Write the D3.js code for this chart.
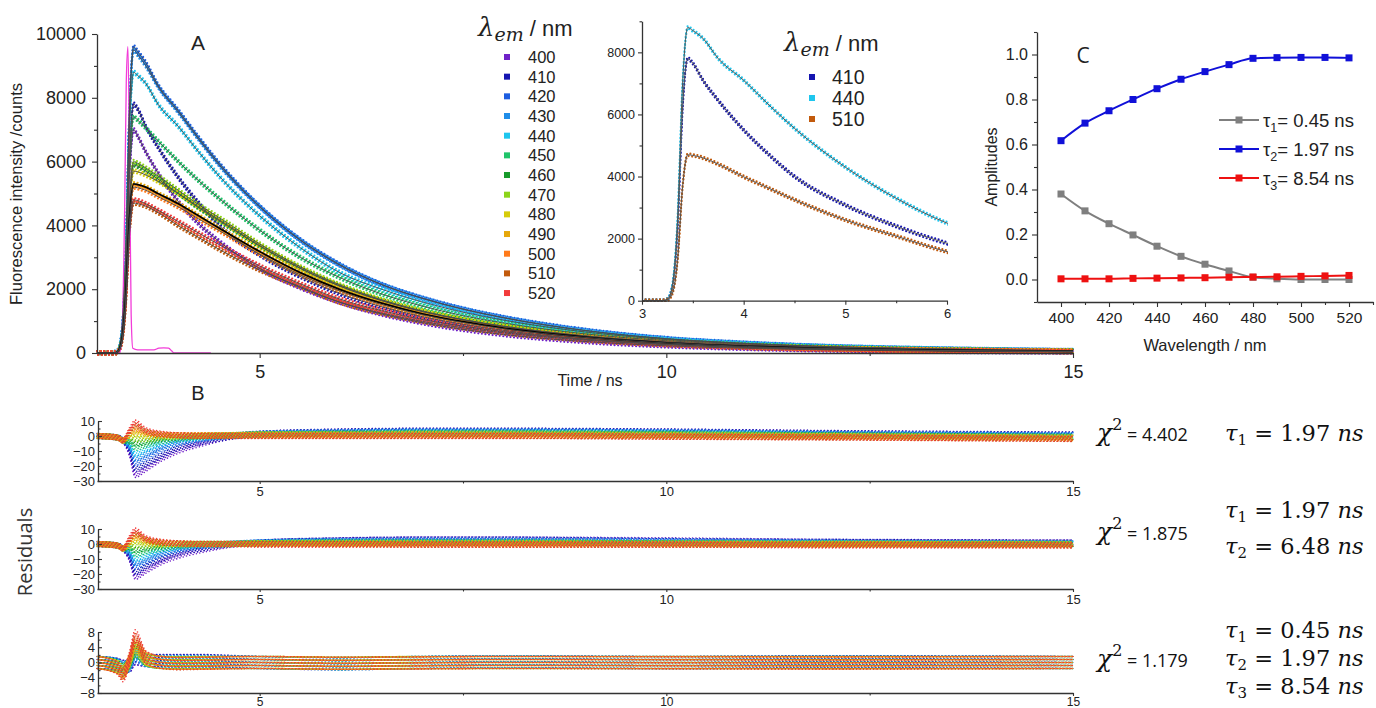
<!DOCTYPE html>
<html><head><meta charset="utf-8">
<script src="https://cdn.jsdelivr.net/npm/d3@7"></script>
<style>body{margin:0;background:#fff}svg{display:block}</style>
</head><body><svg id="c" width="1376" height="708"></svg>
<script>
// ---------------- DATA ----------------
const wavelengths = [400,410,420,430,440,450,460,470,480,490,500,510,520];
const seriesColors = ["#6f22c8","#1515b0","#1c5de0","#1f8de8","#1ec6ee","#20c46a","#169a2a","#8cd41a","#d6cc0a","#e6a70a","#ff7a1a","#c25a0c","#f23b3b"];

const decayTimes = [3.0,3.2,3.25,3.3,3.35,3.4,3.45,3.5,3.6,3.75,4.0,4.25,4.5,5.0,5.5,6.0,6.5,7.0,7.5,8.0,9.0,10.0,11.0,12.0,13.0,14.0,15.0];
const decay400 = [0,0,40,420,2100,5600,7000,6800,6300,5650,4750,4050,3500,2650,2050,1580,1220,950,740,580,360,225,145,95,65,45,35];
const decay410 = [0,0,45,470,2340,6240,7800,7650,7100,6450,5500,4700,4000,3080,2400,1850,1450,1140,900,710,440,280,180,120,85,60,45];
const decay420 = [0,0,55,580,2880,7680,9600,9450,9100,8400,7600,6750,5950,4600,3550,2750,2150,1720,1380,1110,710,450,300,200,140,100,70];
const decay430 = [0,0,55,570,2850,7600,9500,9350,9000,8350,7550,6700,5900,4580,3530,2730,2140,1710,1370,1100,700,445,295,200,140,100,70];
const decay440 = [0,0,50,530,2640,7040,8800,8700,8450,7800,7100,6300,5550,4300,3300,2500,2000,1600,1280,1030,660,420,280,190,135,95,70];
const decay450 = [0,0,45,440,2220,5920,7400,7300,7050,6650,6000,5400,4850,3850,3000,2350,1850,1470,1170,940,600,385,255,170,120,85,60];
const decay460 = [0,0,35,350,1770,4720,5900,5850,5700,5450,5000,4550,4150,3350,2650,2080,1640,1300,1040,830,530,340,225,150,105,75,55];
const decay470 = [0,0,35,360,1800,4800,6000,5950,5800,5550,5100,4650,4250,3420,2700,2120,1670,1320,1050,840,540,345,230,155,105,75,55];
const decay480 = [0,0,35,340,1710,4560,5700,5680,5580,5380,5000,4580,4180,3370,2660,2090,1650,1300,1040,830,530,340,225,150,105,75,55];
const decay490 = [0,0,30,320,1590,4240,5300,5280,5200,5000,4680,4300,3920,3180,2520,1980,1560,1230,980,780,500,320,210,140,100,70,50];
const decay500 = [0,0,30,310,1560,4160,5200,5180,5100,4900,4580,4200,3840,3100,2450,1930,1520,1200,955,760,490,315,205,140,95,70,50];
const decay510 = [0,0,25,250,1300,3700,4700,4680,4600,4400,3990,3620,3250,2600,2080,1580,1250,990,790,630,405,260,170,115,80,58,42];
const decay520 = [0,0,30,290,1440,3840,4800,4780,4680,4480,4120,3760,3400,2730,2170,1680,1330,1050,840,670,430,275,180,120,85,60,45];

const irfTimes  = [3.0,3.28,3.31,3.34,3.36,3.38,3.40,3.42,3.44,3.5,3.7,3.76,3.82,3.88,3.92,3.95,4.4];
const irfValues = [0,0,800,4500,8500,9600,6000,1200,150,100,100,150,160,150,60,0,0];

const insetWavelengths = [410,440,510];

const ampWavelengths = [400,410,420,430,440,450,460,470,480,490,500,510,520];
const ampTau1 = [0.38,0.305,0.248,0.198,0.148,0.103,0.068,0.038,0.01,0.003,0.0,0.0,0.0];
const ampTau2 = [0.617,0.695,0.75,0.80,0.848,0.89,0.924,0.955,0.983,0.986,0.987,0.987,0.985];
const ampTau3 = [0.003,0.003,0.003,0.005,0.006,0.007,0.008,0.01,0.011,0.012,0.014,0.016,0.018];
const ampLabels = ["0.45","1.97","8.54"];

const residTimes = [3.0,3.25,3.32,3.4,3.47,3.6,3.8,4.0,4.3,4.6,5.0,6.0,7.0,8.0,10.0,12.0,15.0];
const resid1 = [
 [0,-1,-3,-12,-26,-22,-15,-10,-5,-1,1.5,3,3.5,3.5,3,2,1],
 [0,-1,-3,-10,-22,-19,-13,-8,-4,-1,1.5,3,3.5,3.5,3,2,1],
 [0,-1,-3,-8,-18,-15,-9,-5,-2,0,1.5,2.5,3,3,2.5,1.5,0.5],
 [0,-1,-3,-7,-15,-12,-7,-4,-1.5,0,1.5,2.5,3,3,2.5,1.5,0.5],
 [0,-1,-3,-6,-12,-9,-5,-2.5,-1,0,1,2,2.5,2.5,2,1,0],
 [0,-1,-3,-4,-8,-6,-3.5,-2,-0.5,0,1,1.5,2,2,1.5,0.5,-0.5],
 [0,-1,-3,-3,-5,-4,-2,-1,0,0.5,1,1.5,1.5,1.5,1,0.5,-0.5],
 [0,-1,-3,-1,-2,-2,-1,-0.5,0,0.5,1,1,1.5,1.5,1,0,-1],
 [0,-1,-3,0,1,0,0,0,0.5,0.5,1,1,1,1,0.5,0,-1],
 [0,-1,-3,1,3,1.5,0.5,0.5,0.5,0.5,0.5,0.5,1,0.5,0,-0.5,-1.5],
 [0,-1,-3,2,5,2.5,1,0.5,0.5,0.5,0.5,0.5,0.5,0.5,0,-0.5,-1.5],
 [0,-1,-3,3,7,3,1,0.5,0,0,0,0,0,0,-0.5,-1,-2],
 [0,-1,-3,4,9,4,1.5,0.5,0,0,0,0,0,0,-0.5,-1,-2]
];
const resid2 = [
 [0,-1,-3,-10,-22,-18,-12,-8,-4,-1,1,2.5,3,3,2.5,1.5,1],
 [0,-1,-3,-9,-19,-15,-10,-6,-3,-0.5,1,2.5,3,3,2,1.5,1],
 [0,-1,-3,-7,-15,-12,-7,-4,-1.5,0,1,2,2.5,2.5,2,1,0.5],
 [0,-1,-3,-6,-13,-10,-6,-3,-1,0,1,2,2,2,1.5,1,0.5],
 [0,-1,-3,-5,-10,-8,-4,-2,-0.5,0,1,1.5,1.5,1.5,1,0.5,0],
 [0,-1,-3,-3,-7,-5,-3,-1.5,0,0,0.5,1,1,1,0.5,0.5,0],
 [0,-1,-3,-2,-4,-3,-1.5,-0.5,0,0,0.5,1,1,1,0.5,0,0],
 [0,-1,-3,-1,-1,-1,-0.5,0,0,0,0.5,0.5,0.5,0.5,0.5,0,0],
 [0,-1,-3,0,2,0.5,0,0,0,0,0.5,0.5,0.5,0.5,0,0,-0.5],
 [0,-1,-3,1,4,2,0.5,0,0,0,0,0,0,0,0,0,-0.5],
 [0,-1,-3,2,6,3,1,0.5,0,0,0,0,0,0,0,-0.5,-0.5],
 [0,-1,-3,3,7,3,1,0.5,0,0,0,0,-0.5,-0.5,-0.5,-0.5,-1],
 [0,-1,-3,4,9,4,1.5,0.5,0,0,-0.5,-0.5,-0.5,-0.5,-0.5,-1,-1]
];
const resid3 = [
 [0,-0.5,-1,-1,1,0.5,0.5,0.5,0.5,0.3,0,-0.3,0,0.2,0,0.2,0],
 [0,-0.5,-1,-1,1,0.5,0.5,0.5,0.5,0.3,0,-0.3,0,0.2,0,0.2,0],
 [0,-0.5,-1.2,-0.8,1.5,0.5,0.3,0.3,0.3,0.2,0,-0.3,0,0.2,0,0.1,0],
 [0,-0.6,-1.4,-0.6,2,0.6,0.2,0.2,0.2,0.1,0,-0.3,0,0.1,0,0.1,0],
 [0,-0.7,-1.6,-0.4,2.5,0.6,0.1,0.1,0.1,0,0,-0.3,0,0.1,0,0,0],
 [0,-0.8,-1.8,-0.2,3,0.7,0,0,0,0,0,-0.3,0,0,0,0,0],
 [0,-0.9,-2,0,3,0.7,0,0,0,0,0,-0.2,0,0,0,0,0],
 [0,-1,-2.2,0.2,3.5,0.8,0,-0.1,0,0,0,-0.2,0,0,0,0,0],
 [0,-1.1,-2.4,0.4,4,0.9,0,-0.1,-0.1,0,0,-0.2,0,0,0,0,0],
 [0,-1.2,-2.6,0.6,4.5,1,0,-0.2,-0.1,0,0,-0.2,-0.1,0,0,-0.1,0],
 [0,-1.3,-2.8,0.8,5,1.2,0,-0.2,-0.2,-0.1,0,-0.2,-0.1,0,0,-0.1,0],
 [0,-1.4,-3,1,6,1.3,0,-0.3,-0.2,-0.1,0,-0.2,-0.1,0,-0.1,-0.1,0],
 [0,-1.5,-3.5,1.2,7,1.5,0,-0.3,-0.2,-0.1,0,-0.2,-0.1,0,-0.1,-0.2,0]
];
const chiSquared = ["4.402","1.875","1.179"];
const fitTaus = [["1.97"],["1.97","6.48"],["0.45","1.97","8.54"]];

const mainXTicks = [5,10,15];
const mainYTicks = [0,2000,4000,6000,8000,10000];
const insetXTicks = [3,4,5,6];
const insetYTicks = [0,2000,4000,6000,8000];
const ampXTicks = [400,420,440,460,480,500,520];
const ampYTicks = [0,0.2,0.4,0.6,0.8,1.0];

// ---------------- DRAW ----------------
const SANS = '"Liberation Sans", Arial, sans-serif';
const SERIF = '"DejaVu Serif", serif';
const svg = d3.select('#c');
const decays = [decay400,decay410,decay420,decay430,decay440,decay450,decay460,decay470,decay480,decay490,decay500,decay510,decay520];

function axis(gen, scale, vals, size, fmt, fs, pad, tx, ty, showDomain){
  const a = gen(scale).tickValues(vals).tickSize(size).tickSizeOuter(0).tickPadding(pad).tickFormat(fmt);
  const g = svg.append('g').attr('transform',`translate(${tx},${ty})`).call(a);
  g.attr('font-size',null).attr('font-family',null);
  g.selectAll('text').attr('font-size',fs).attr('font-family',SANS).attr('fill','#222');
  g.selectAll('.tick line').attr('stroke','#333').attr('stroke-width',1.1);
  g.select('.domain').attr('stroke','#333').attr('stroke-width',1.3).attr('display',showDomain?null:'none');
  return g;
}
const noLabel = () => '';

// ---- Panel A main ----
const xMain = d3.scaleLinear().domain([3,15]).range([97,1073]);
const yMain = d3.scaleLinear().domain([0,10000]).range([353,34]);

const gA = svg.append('g');
const lineMain = d3.line().x(d=>xMain(d[0])).y(d=>yMain(d[1])).curve(d3.curveMonotoneX);
const pts = arr => decayTimes.map((t,i)=>[t,arr[i]]);

decays.forEach((arr,i)=>{
  [-1.8,0,1.8].forEach((off,k)=>{
    gA.append('path').attr('d',lineMain(pts(arr))).attr('fill','none')
      .attr('stroke',seriesColors[i]).attr('stroke-width',2.2).attr('stroke-linecap','round')
      .attr('stroke-dasharray','0 3.6').attr('stroke-dashoffset',k*1.2)
      .attr('transform',`translate(0,${off})`);
  });
});
gA.append('path').attr('d',lineMain(irfTimes.map((t,i)=>[t,irfValues[i]])))
  .attr('fill','none').attr('stroke','#f23cd8').attr('stroke-width',1.3);
decays.forEach((arr,i)=>{
  gA.append('path').attr('d',lineMain(pts(arr))).attr('fill','none')
    .attr('stroke', i===9 ? '#000' : '#4a4a4a').attr('stroke-width', i===9 ? 1.8 : 0.9);
});

axis(d3.axisBottom,xMain,mainXTicks,5,d3.format('d'),18,7,0,353,true);
axis(d3.axisBottom,xMain,[7.5,12.5],3,noLabel,16,0,0,353,false);
axis(d3.axisLeft,yMain,mainYTicks,5,d3.format('d'),18,6,97,0,true);
axis(d3.axisLeft,yMain,[1000,3000,5000,7000,9000],3,noLabel,16,0,97,0,false);

svg.append('text').attr('x',590).attr('y',386).attr('text-anchor','middle').attr('font-family',SANS)
  .attr('font-size',16).attr('fill','#222').text('Time / ns');
svg.append('text').attr('transform','translate(22,194) rotate(-90)').attr('text-anchor','middle')
  .attr('font-family',SANS).attr('font-size',16.5).attr('fill','#222').text('Fluorescence intensity /counts');
svg.append('text').attr('x',198).attr('y',50).attr('text-anchor','middle').attr('font-family',SANS)
  .attr('font-size',21).attr('fill','#222').text('A');
svg.append('text').attr('x',198).attr('y',400).attr('text-anchor','middle').attr('font-family',SANS)
  .attr('font-size',20).attr('fill','#222').text('B');

function lambdaTitle(x,y){
  const t = svg.append('text').attr('x',x).attr('y',y).attr('fill','#222');
  t.append('tspan').attr('font-family',SERIF).attr('font-style','italic').attr('font-size',26).text('λ');
  t.append('tspan').attr('font-family',SERIF).attr('font-style','italic').attr('font-size',19).attr('dy',5).text('em');
  t.append('tspan').attr('font-family',SANS).attr('font-size',22).attr('dy',-5).text(' / nm');
}
lambdaTitle(478,36);
const legA = svg.append('g');
wavelengths.forEach((w,i)=>{
  const y = 57 + i*19.67;
  legA.append('rect').attr('x',504).attr('y',y-3).attr('width',6).attr('height',6).attr('fill',seriesColors[i]);
  legA.append('text').attr('x',528).attr('y',y+6).attr('font-family',SANS).attr('font-size',16.5).attr('fill','#222').text(w);
});

// ---- Inset ----
const xIn = d3.scaleLinear().domain([3,6]).range([642,947]);
const yIn = d3.scaleLinear().domain([0,9000]).range([300.7,21.3]);
svg.append('clipPath').attr('id','clipIn').append('rect').attr('x',642).attr('y',15).attr('width',306).attr('height',287);
const gIn = svg.append('g').attr('clip-path','url(#clipIn)');
const lineIn = d3.line().x(d=>xIn(d[0])).y(d=>yIn(d[1])).curve(d3.curveMonotoneX);
insetWavelengths.forEach(w=>{
  const i = wavelengths.indexOf(w);
  [-1.3,1.3].forEach((off,k)=>{
    gIn.append('path').attr('d',lineIn(pts(decays[i]))).attr('fill','none')
      .attr('stroke',seriesColors[i]).attr('stroke-width',2.2).attr('stroke-linecap','round')
      .attr('stroke-dasharray','0 3.6').attr('stroke-dashoffset',k*1.8)
      .attr('transform',`translate(0,${off})`);
  });
});
insetWavelengths.forEach(w=>{
  const i = wavelengths.indexOf(w);
  gIn.append('path').attr('d',lineIn(pts(decays[i]))).attr('fill','none').attr('stroke','#555').attr('stroke-width',1);
});
axis(d3.axisBottom,xIn,insetXTicks,4,d3.format('d'),13,4,0,300.7,true);
axis(d3.axisBottom,xIn,[3.5,4.5,5.5],2.5,noLabel,12,0,0,300.7,false);
axis(d3.axisLeft,yIn,insetYTicks,4,d3.format('d'),12.5,3,642,0,true);
axis(d3.axisLeft,yIn,[1000,3000,5000,7000,9000],2.5,noLabel,12,0,642,0,false);
lambdaTitle(784,51);
insetWavelengths.forEach((w,k)=>{
  const i = wavelengths.indexOf(w);
  const y = 77 + k*21;
  svg.append('rect').attr('x',809).attr('y',y-3).attr('width',6).attr('height',6).attr('fill',seriesColors[i]);
  svg.append('text').attr('x',832).attr('y',y+7).attr('font-family',SANS).attr('font-size',19.5).attr('fill','#222').text(w);
});

// ---- Panel C ----
const xC = d3.scaleLinear().domain([390,530]).range([1037,1373]);
const yC = d3.scaleLinear().domain([-0.1,1.1]).range([302,32]);
const ampSeries = [[ampTau1,'#7f7f7f'],[ampTau2,'#1010d8'],[ampTau3,'#ee1111']];
const lineC = d3.line().x(d=>xC(d[0])).y(d=>yC(d[1])).curve(d3.curveMonotoneX);
ampSeries.forEach(([arr,col])=>{
  const d = ampWavelengths.map((w,i)=>[w,arr[i]]);
  svg.append('path').attr('d',lineC(d)).attr('fill','none').attr('stroke',col).attr('stroke-width',2);
  svg.append('g').selectAll('rect').data(d).join('rect')
    .attr('x',p=>xC(p[0])-3.5).attr('y',p=>yC(p[1])-3.5).attr('width',7).attr('height',7).attr('fill',col);
});
axis(d3.axisBottom,xC,ampXTicks,5,d3.format('d'),15.5,5,0,302,true);
axis(d3.axisBottom,xC,[410,430,450,470,490,510,530],3,noLabel,14,0,0,302,false);
axis(d3.axisLeft,yC,ampYTicks,5,d3.format('.1f'),16,4,1037,0,true);
axis(d3.axisLeft,yC,[-0.1,0.1,0.3,0.5,0.7,0.9,1.1],3,noLabel,14,0,1037,0,false);
svg.append('text').attr('x',1205).attr('y',351).attr('text-anchor','middle').attr('font-family',SANS)
  .attr('font-size',16.5).attr('fill','#222').text('Wavelength / nm');
svg.append('text').attr('transform','translate(997,167) rotate(-90)').attr('text-anchor','middle')
  .attr('font-family',SANS).attr('font-size',16).attr('fill','#222').text('Amplitudes');
svg.append('text').attr('x',1083).attr('y',63).attr('text-anchor','middle').attr('font-family','"Open Sans", sans-serif')
  .attr('font-size',21).attr('fill','#222').text('C');
ampSeries.forEach(([arr,col],k)=>{
  const y = 120 + k*29;
  svg.append('line').attr('x1',1219).attr('x2',1259).attr('y1',y).attr('y2',y).attr('stroke',col).attr('stroke-width',2);
  svg.append('rect').attr('x',1235.5).attr('y',y-3.5).attr('width',7).attr('height',7).attr('fill',col);
  const t = svg.append('text').attr('x',1263).attr('y',y+6.5).attr('font-family',SANS).attr('font-size',18.5).attr('fill','#222');
  t.append('tspan').text('τ');
  t.append('tspan').attr('font-size',12.5).attr('dy',5).text(k+1);
  t.append('tspan').attr('dy',-5).text('= ' + ampLabels[k] + ' ns');
});

// ---- Panel B residuals ----
const xR = xMain;
const residPanels = [
  {data:resid1, dom:[-30,10], rng:[481,421], ticks:[-30,-20,-10,0,10], minor:[-25,-15,-5,5], offs:[-2.4,-0.8,0.8,2.4], pad:3, fs:13},
  {data:resid2, dom:[-30,10], rng:[589,529], ticks:[-30,-20,-10,0,10], minor:[-25,-15,-5,5], offs:[-2.4,-0.8,0.8,2.4], pad:3, fs:13},
  {data:resid3, dom:[-8,8],  rng:[693,632], ticks:[-8,-4,0,4,8], minor:[-6,-2,2,6], offs:[-6,-3,0,3,6], pad:1, fs:12}
];
residPanels.forEach((p,pi)=>{
  const y = d3.scaleLinear().domain(p.dom).range(p.rng);
  const ln = d3.line().x(d=>xR(d[0])).y(d=>y(d[1])).curve(d3.curveMonotoneX);
  const g = svg.append('g');
  p.data.forEach((arr,i)=>{
    const d = residTimes.map((t,j)=>[t,arr[j]]);
    p.offs.forEach((off,k)=>{
      g.append('path').attr('d',ln(d)).attr('fill','none').attr('stroke',seriesColors[i])
        .attr('stroke-width',1.6).attr('stroke-linecap','round')
        .attr('stroke-dasharray','0 3.4').attr('stroke-dashoffset',(k*1.3+i*0.7)%3.4)
        .attr('transform',`translate(0,${off})`);
    });
  });
  axis(d3.axisBottom,xR,mainXTicks,3,d3.format('d'),p.fs,p.pad,0,p.rng[0],true);
  axis(d3.axisBottom,xR,[7.5,12.5],2.5,noLabel,p.fs,0,0,p.rng[0],false);
  axis(d3.axisLeft,y,p.ticks,-4,d3.format('d'),13,3,98,0,true);
  axis(d3.axisLeft,y,p.minor,-2.5,noLabel,13,0,98,0,false);
});
svg.append('text').attr('transform','translate(32,552) rotate(-90)').attr('text-anchor','middle')
  .attr('font-family','"Open Sans", sans-serif').attr('font-size',20).attr('fill','#333').text('Residuals');

// ---- equations ----
function chiLabel(x,y,val){
  const t = svg.append('text').attr('x',x).attr('y',y).attr('fill','#111');
  t.append('tspan').attr('font-family',SERIF).attr('font-style','italic').attr('font-size',25).text('χ');
  t.append('tspan').attr('font-family',SERIF).attr('font-size',16).attr('dy',-11).text('2');
  t.append('tspan').attr('font-family','"Open Sans", sans-serif').attr('font-size',18).attr('dy',11).text(' = ' + val);
}
function tauLine(x,y,idx,val){
  const t = svg.append('text').attr('x',x).attr('y',y).attr('fill','#111').attr('font-family',SERIF).attr('font-size',22.5);
  t.append('tspan').attr('font-style','italic').text('τ');
  t.append('tspan').attr('font-size',15).attr('dy',4).text(idx);
  t.append('tspan').attr('dy',-4).text(' = ' + val + ' ');
  t.append('tspan').attr('font-style','italic').text('ns');
}
const chiY = [441,540,667];
const tauYs = [[441],[518,554],[638,666,694]];
chiSquared.forEach((c,i)=>chiLabel(1097,chiY[i],c));
fitTaus.forEach((arr,i)=>arr.forEach((v,k)=>tauLine(1225,tauYs[i][k],k+1,v)));
</script></body></html>
